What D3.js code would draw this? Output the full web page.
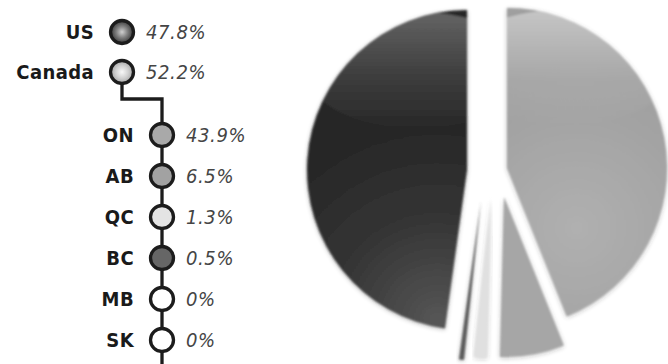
<!DOCTYPE html>
<html><head><meta charset="utf-8">
<script src="https://cdn.jsdelivr.net/npm/d3@7"></script>
<style>html,body{margin:0;padding:0;background:#fff;overflow:hidden}</style>
</head><body>
<svg id="chart" width="668" height="364"></svg>
<script>
// ---- data ----
const regions = ["US", "Canada"];
const regionValues = [47.8, 52.2];
const provinces = ["ON", "AB", "QC", "BC", "MB", "SK"];
const provinceValues = [43.9, 6.5, 1.3, 0.5, 0, 0];

// ---- style ----
const sliceFill = {US: "url(#gUS)", ON: "url(#gON)", AB: "#a6a6a6", QC: "#e0e0e0", BC: "#5a5a5a", MB: "#fff", SK: "#fff"};
const dotFill = {US: "url(#dUS)", Canada: "url(#dCA)", ON: "#a9a9a9", AB: "#a2a2a2", QC: "#e4e4e4", BC: "#666", MB: "#fff", SK: "#fff"};
const explode = {US: [-20, 0], ON: [20, -2], AB: [17, 27], QC: [4, 28], BC: [-6, 31], MB: [-8, 32], SK: [-8, 32]};
const pieCenter = [487, 170], pieR = 160;
const ink = "#1c1c1c";

const svg = d3.select("#chart");
const defs = svg.append("defs");

function radial(id, stops, attrs) {
  const g = defs.append("radialGradient").attr("id", id);
  Object.entries(attrs || {}).forEach(([k, v]) => g.attr(k, v));
  stops.forEach(([o, c, a]) => g.append("stop").attr("offset", o).attr("stop-color", c).attr("stop-opacity", a == null ? 1 : a));
}
function linear(id, stops, attrs) {
  const g = defs.append("linearGradient").attr("id", id);
  Object.entries(attrs || {}).forEach(([k, v]) => g.attr(k, v));
  stops.forEach(([o, c, a]) => g.append("stop").attr("offset", o).attr("stop-color", c).attr("stop-opacity", a == null ? 1 : a));
}
radial("dUS", [[0, "#d0d0d0"], [0.45, "#808080"], [1, "#2a2a2a"]], {cx: "50%", cy: "50%", r: "55%"});
radial("dCA", [[0, "#f8f8f8"], [0.5, "#d0d0d0"], [1, "#9a9a9a"]], {cx: "50%", cy: "50%", r: "55%"});
radial("gUS", [[0, "#565656"], [0.55, "#343434"], [1, "#282828"]], {gradientUnits: "userSpaceOnUse", cx: -30, cy: 150, r: 190});
radial("gON", [[0, "#b0b0b0"], [0.7, "#a3a3a3"], [1, "#9f9f9f"]], {gradientUnits: "userSpaceOnUse", cx: 70, cy: 60, r: 170});
linear("hl", [[0, "#ffffff", 0.28], [0.55, "#ffffff", 0.1], [1, "#ffffff", 0]], {x1: 0, y1: 0, x2: 0, y2: 1});
linear("hl2", [[0, "#ffffff", 0.4], [0.6, "#ffffff", 0.08], [1, "#ffffff", 0]], {x1: 0, y1: 0, x2: 0, y2: 1});

const f = defs.append("filter").attr("id", "soft").attr("x", "-10%").attr("y", "-10%").attr("width", "120%").attr("height", "120%");
f.append("feGaussianBlur").attr("in", "SourceAlpha").attr("stdDeviation", 2.5).attr("result", "b");
f.append("feOffset").attr("in", "b").attr("dx", 0).attr("dy", 1).attr("result", "o");
f.append("feComponentTransfer").attr("in", "o").attr("result", "s").append("feFuncA").attr("type", "linear").attr("slope", 0.3);
f.append("feGaussianBlur").attr("in", "SourceGraphic").attr("stdDeviation", 0.9).attr("result", "g");
const m = f.append("feMerge");
m.append("feMergeNode").attr("in", "s");
m.append("feMergeNode").attr("in", "g");

// ---- pie ----
const sliceNames = provinces.concat(["US"]);
const sliceValues = provinceValues.concat([regionValues[0]]);
const pie = d3.pie().sort(null).value(d => d.v);
const arcs = pie(sliceNames.map((n, i) => ({n, v: sliceValues[i]})));
const arc = d3.arc().innerRadius(0).outerRadius(pieR);

const pieG = svg.append("g").attr("transform", `translate(${pieCenter})`);
arcs.filter(d => d.data.v > 0).forEach(d => {
  const name = d.data.n;
  const [dx, dy] = explode[name];
  const g = pieG.append("g").attr("transform", `translate(${dx},${dy})`).attr("filter", "url(#soft)");
  const clipId = "clip" + name;
  defs.append("clipPath").attr("id", clipId).append("path").attr("d", arc(d));
  g.append("path").attr("d", arc(d)).attr("fill", sliceFill[name]);
  if (name === "US") {
    g.append("ellipse").attr("clip-path", `url(#${clipId})`)
      .attr("cx", -50).attr("cy", -100).attr("rx", 112).attr("ry", 58).attr("fill", "url(#hl)");
  }
  if (name === "ON") {
    g.append("ellipse").attr("clip-path", `url(#${clipId})`)
      .attr("cx", 55).attr("cy", -100).attr("rx", 112).attr("ry", 58).attr("fill", "url(#hl2)");
  }
});

// ---- legend ----
const regionY = d3.scalePoint().domain(regions).range([32, 72]);
const provY = d3.scalePoint().domain(provinces).range([135, 340]);
const regionX = 122, provX = 162;
const labelFont = "'DejaVu Sans Condensed', 'DejaVu Sans', sans-serif";

const tree = d3.path();
tree.moveTo(regionX, regionY("Canada"));
tree.lineTo(regionX, 99);
tree.lineTo(provX, 99);
tree.lineTo(provX, 370);
svg.append("path").attr("d", tree.toString()).attr("fill", "none").attr("stroke", ink).attr("stroke-width", 3.3);

function row(name, value, x, y) {
  svg.append("circle").attr("cx", x).attr("cy", y).attr("r", 11.5)
    .attr("fill", dotFill[name]).attr("stroke", ink).attr("stroke-width", 3.3);
  svg.append("text").attr("x", x - 28).attr("y", y).attr("dy", "0.36em")
    .attr("text-anchor", "end").attr("font-family", labelFont).attr("font-weight", "bold")
    .attr("font-size", 20).attr("letter-spacing", 0.4).attr("fill", "#1a1a1a").text(name);
  svg.append("text").attr("x", x + 24).attr("y", y).attr("dy", "0.36em")
    .attr("font-family", labelFont).attr("font-style", "italic")
    .attr("font-size", 20).attr("letter-spacing", 0.6).attr("fill", "#454545").text(value + "%");
}
regions.forEach((r, i) => row(r, regionValues[i], regionX, regionY(r)));
provinces.forEach((p, i) => row(p, provinceValues[i], provX, provY(p)));
</script>
</body></html>
